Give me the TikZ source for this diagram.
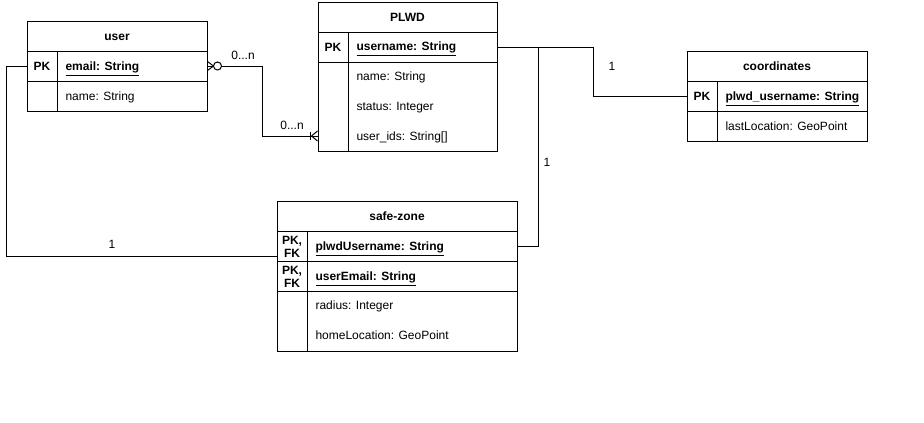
\documentclass[tikz,border=0pt]{standalone}
\usepackage{fontspec}
\setmainfont{Liberation Sans}
\begin{document}
\begin{tikzpicture}[x=0.75pt,y=-0.75pt,
  font=\fontsize{9pt}{10pt}\selectfont, line width=0.75pt,
  sec/.style 2 args={draw, inner sep=0pt, minimum width=#1*0.75pt, minimum height=#2*0.75pt},
  rowb/.style 2 args={inner sep=0pt, minimum width=#1*0.75pt, minimum height=#2*0.75pt},
  hd/.style={font=\fontsize{9pt}{10pt}\selectfont\bfseries, inner sep=0pt, anchor=base},
  keyt/.style={font=\fontsize{9pt}{9.5pt}\selectfont\bfseries, inner sep=0pt, align=center},
  fld/.style={anchor=base west, inner sep=0pt},
  pkf/.style={anchor=base west, inner sep=0pt, font=\fontsize{9pt}{10pt}\selectfont\bfseries},
  lbl/.style={inner sep=0pt, anchor=base}]
\useasboundingbox (0,0) rectangle (924,422);

% ---------- user ----------
\node[sec={180}{30}] (uHead) at (117,36) {};
\node[hd] (uTitle) at (117,40.5) {user};
\node[sec={180}{30}] (uEmail) at (117,66) {};
\node[sec={180}{30}] (uName) at (117,96) {};
\draw (57,51) -- (57,111);
\node[keyt] (uPK) at (42,66) {PK};
\node[pkf] (uEmailT) at (65,70.5) {\underline{email: String}};
\node[fld] (uNameT) at (65,100.5) {name: String};

% ---------- PLWD ----------
\node[sec={179}{30}] (pHead) at (407.5,17) {};
\node[hd] (pTitle) at (407.5,21.5) {PLWD};
\node[sec={179}{30}] (pUser) at (407.5,47) {};
\node[sec={179}{89}] (pBody) at (407.5,106.5) {};
\node[rowb={179}{30}] (pIds) at (407.5,136) {};
\draw (348,32) -- (348,151);
\node[keyt] (pPK) at (333,47) {PK};
\node[pkf] (pUserT) at (356,50.5) {\underline{username: String}};
\node[fld] (pNameT) at (356,80.5) {name: String};
\node[fld] (pStatusT) at (356,110.5) {status: Integer};
\node[fld] (pIdsT) at (356,140.5) {user\_ids: String[]};

% ---------- coordinates ----------
\node[sec={180}{30}] (cHead) at (777,66) {};
\node[hd] (cTitle) at (777,70.5) {coordinates};
\node[sec={180}{30}] (cUser) at (777,96) {};
\node[sec={180}{30}] (cLoc) at (777,126) {};
\draw (717,81) -- (717,141);
\node[keyt] (cPK) at (702,96) {PK};
\node[pkf] (cUserT) at (725,100.5) {\underline{plwd\_username: String}};
\node[fld] (cLocT) at (725,130.5) {lastLocation: GeoPoint};

% ---------- safe-zone ----------
\node[sec={240}{30}] (sHead) at (397,216) {};
\node[hd] (sTitle) at (397,220.5) {safe-zone};
\node[sec={240}{30}] (sPlwd) at (397,246) {};
\node[sec={240}{30}] (sEmail) at (397,276) {};
\node[sec={240}{60}] (sBody) at (397,321) {};
\draw (307,231) -- (307,351);
\node[keyt] (sPK1) at (292,247) {PK,\\FK};
\node[keyt] (sPK2) at (292,277) {PK,\\FK};
\node[pkf] (sPlwdT) at (315,250.5) {\underline{plwdUsername: String}};
\node[pkf] (sEmailT) at (315,280.5) {\underline{userEmail: String}};
\node[fld] (sRadT) at (315,309.5) {radius: Integer};
\node[fld] (sHomeT) at (315,339.5) {homeLocation: GeoPoint};

% ---------- connectors ----------
% user -- PLWD (zero or many  /  one or many)
\draw (uEmail.east) -- ++(55,0) |- (pIds.west);
\draw (uEmail.east) ++(6,0) -- ++(-6,-4.5) ++(6,4.5) -- ++(-6,4.5);
\draw[fill=white] (uEmail.east) ++(10,0) circle[radius=3pt];
\draw (pIds.west) ++(-6,0) -- ++(6,-5) ++(-6,5) -- ++(6,5);
\draw (pIds.west) ++(-7,-4) -- ++(0,8);
\node[lbl] (l1) at (243,59.5) {0...n};
\node[lbl] (l2) at (292,129.5) {0...n};

% PLWD -- coordinates
\draw (pUser.east) -- ++(96,0) |- (cUser.west);
\node[lbl] (l3) at (612,70.5) {1};

% PLWD -- safe-zone
\draw (pUser.east) -- ++(41,0) |- (sPlwd.east);
\node[lbl] (l4) at (547,166.5) {1};

% user -- safe-zone
\draw (uEmail.west) -- ++(-20,0) |- ([yshift=-7.5pt]sPlwd.west);
\node[lbl] (l5) at (112,248.5) {1};
\end{tikzpicture}
\end{document}
